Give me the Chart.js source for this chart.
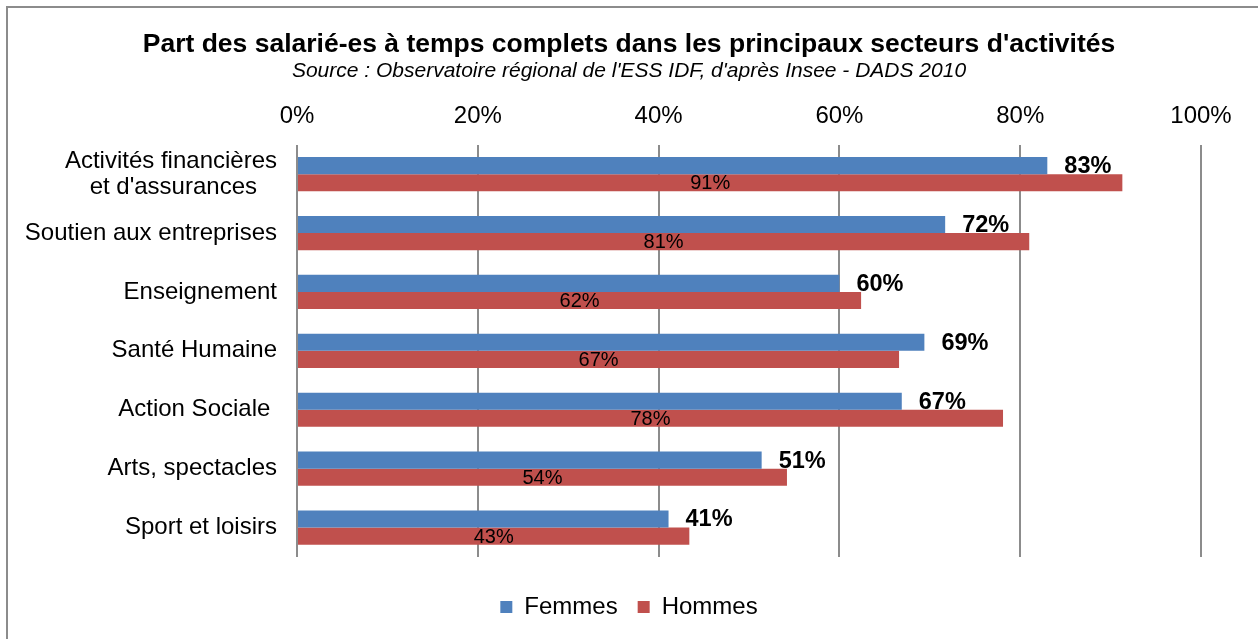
<!DOCTYPE html>
<html>
<head>
<meta charset="utf-8">
<script src="https://cdn.jsdelivr.net/npm/chart.js@4"></script>
<style>
  html, body { margin: 0; padding: 0; background: #fff; overflow: hidden; }
  #frame { position: absolute; left: 6px; top: 6px; width: 1300px; height: 700px; border: 2px solid #8c8c8c; }
  #wrap { position: absolute; left: 0; top: 0; width: 1258px; height: 639px; }
</style>
</head>
<body>
<div id="frame"></div>
<div id="wrap"><canvas id="myChart"></canvas></div>
<script>
const categories = [
    ['Activités financières', "et d'assurances   "],
    'Soutien aux entreprises',
    'Enseignement',
    'Santé Humaine',
    'Action Sociale ',
    'Arts, spectacles',
    'Sport et loisirs'
];
const femmes = [83.0, 71.7, 60.0, 69.4, 66.9, 51.4, 41.1];
const hommes = [91.3, 81.0, 62.4, 66.6, 78.1, 54.2, 43.4];
const xTicks = [0, 20, 40, 60, 80, 100];

const FONT = "'Liberation Sans', Arial, sans-serif";

// value labels: bold after the Femmes bar, plain in the middle of the Hommes bar
const barLabels = {
    id: 'barLabels',
    afterDatasetsDraw(chart) {
        const ctx = chart.ctx;
        ctx.save();
        ctx.fillStyle = '#000';
        ctx.textBaseline = 'middle';
        chart.data.datasets.forEach((ds, i) => {
            chart.getDatasetMeta(i).data.forEach((bar, j) => {
                const txt = Math.round(ds.data[j]) + '%';
                if (i === 0) {
                    ctx.font = 'bold 23.5px ' + FONT;
                    ctx.textAlign = 'left';
                    ctx.fillText(txt, bar.x + 17, bar.y + 1);
                } else {
                    ctx.font = '20px ' + FONT;
                    ctx.textAlign = 'center';
                    ctx.fillText(txt, (bar.x + bar.base) / 2, bar.y + 1);
                }
            });
        });
        ctx.restore();
    }
};

const ctx = document.getElementById('myChart');

new Chart(ctx, {
    type: 'bar',
    data: {
        labels: categories,
        datasets: [{
            label: 'Femmes',
            data: femmes,
            backgroundColor: '#4F81BD',
            xAxisID: 'x',
            yAxisID: 'y'
        }, {
            label: 'Hommes',
            data: hommes,
            backgroundColor: '#C0504D',
            xAxisID: 'x',
            yAxisID: 'y'
        }]
    },
    options: {
        indexAxis: 'y',
        responsive: true,
        maintainAspectRatio: false,
        animation: false,
        categoryPercentage: 0.58,
        barPercentage: 1,
        layout: { padding: { top: 31, left: 0, right: 0, bottom: 10 } },
        plugins: {
            title: {
                display: true,
                text: "Part des salarié-es à temps complets dans les principaux secteurs d'activités",
                color: '#000',
                font: { family: FONT, size: 26.5, weight: 'bold', lineHeight: 1 },
                padding: 0
            },
            subtitle: {
                display: true,
                text: "Source : Observatoire régional de l'ESS IDF, d'après Insee - DADS 2010",
                color: '#000',
                font: { family: FONT, size: 21, style: 'italic', lineHeight: 1.2 },
                padding: { top: 1, bottom: 0 }
            },
            legend: {
                position: 'bottom',
                labels: {
                    color: '#000',
                    font: { family: FONT, size: 24 },
                    boxWidth: 12,
                    boxHeight: 12,
                    padding: 20
                }
            },
            tooltip: { enabled: false }
        },
        scales: {
            x: {
                position: 'top',
                min: 0,
                max: 100,
                afterBuildTicks: s => { s.ticks = xTicks.map(v => ({ value: v })); },
                afterFit: s => { s.height = 61; },
                ticks: {
                    color: '#000',
                    font: { family: FONT, size: 24 },
                    padding: 14,
                    callback: v => v + '%'
                },
                grid: { color: '#8c8c8c', lineWidth: 2, drawTicks: false },
                border: { display: false }
            },
            x2: {
                type: 'linear',
                position: 'bottom',
                afterFit: s => { s.height = 18; },
                ticks: { display: false },
                grid: { display: false },
                border: { display: false }
            },
            y: {
                afterFit: s => { s.width = 297; },
                ticks: {
                    color: '#000',
                    font: { family: FONT, size: 24, lineHeight: 1.1 },
                    padding: 20
                },
                grid: { display: false, drawTicks: false },
                border: { display: false }
            },
            y2: {
                type: 'linear',
                position: 'right',
                afterFit: s => { s.width = 57; },
                ticks: { display: false },
                grid: { display: false },
                border: { display: false }
            }
        }
    },
    plugins: [barLabels]
});
</script>
</body>
</html>
